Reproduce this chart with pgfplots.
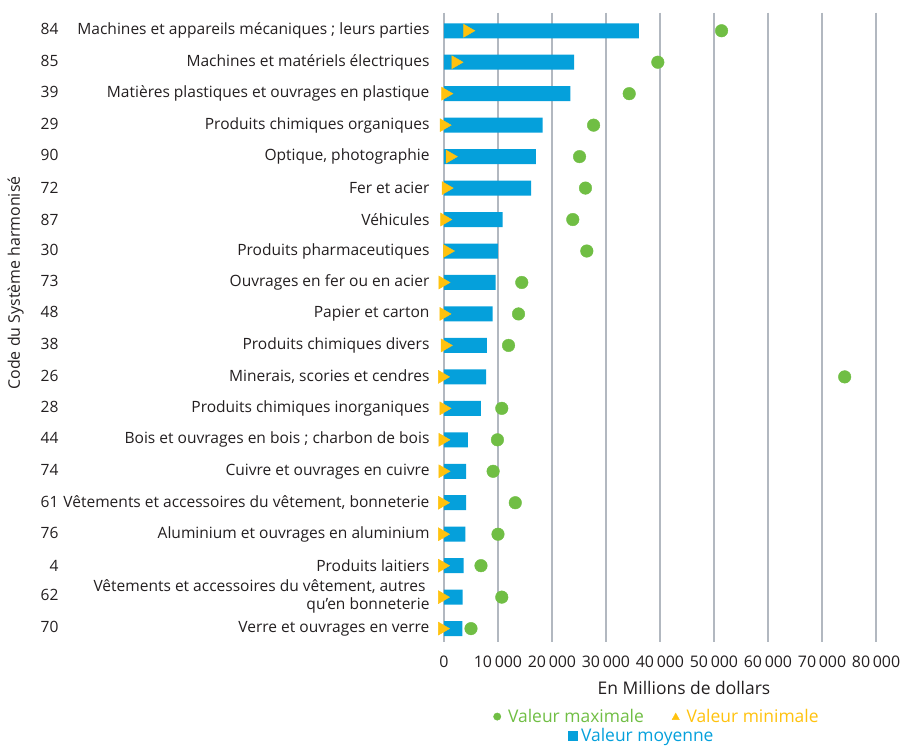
\documentclass[border=0pt]{standalone}
\usepackage{pgfplots}
\pgfplotsset{compat=1.18}
\usepackage{fontspec}
\setmainfont{Open Sans}
\definecolor{barblue}{RGB}{5,160,219}
\definecolor{dotgreen}{RGB}{112,190,68}
\definecolor{triyellow}{RGB}{255,194,14}
\definecolor{gridgray}{RGB}{178,184,192}
\definecolor{txt}{RGB}{35,31,32}
% code on the left, description right-aligned
\newcommand\lbl[2]{\makebox[399bp]{\makebox[28bp][r]{#1}\hfill#2}}
\newcommand\two[2]{\begin{tabular}[c]{@{}r@{}}#1\\#2\end{tabular}}

\begin{document}
\begin{tikzpicture}
\begin{axis}[
    scale only axis,
    width=432bp, height=629bp,
    xmin=0, xmax=80000,
    ymin=-0.58, ymax=19.41,
    y dir=reverse,
    clip=false,
    axis line style={draw=none},
    major tick length=0,
    xmajorgrids,
    major grid style={gridgray, line width=1.2bp},
    scaled x ticks=false,
    xtick={0,10000,...,80000},
    xticklabels={0,10\,000,20\,000,30\,000,40\,000,50\,000,60\,000,70\,000,80\,000},
    ytick={0,...,19},
    yticklabels={
        \lbl{84}{Machines et appareils mécaniques ; leurs parties},
        \lbl{85}{Machines et matériels électriques},
        \lbl{39}{Matières plastiques et ouvrages en plastique},
        \lbl{29}{Produits chimiques organiques},
        \lbl{90}{Optique, photographie},
        \lbl{72}{Fer et acier},
        \lbl{87}{Véhicules},
        \lbl{30}{Produits pharmaceutiques},
        \lbl{73}{Ouvrages en fer ou en acier},
        \lbl{48}{Papier et carton},
        \lbl{38}{Produits chimiques divers},
        \lbl{26}{Minerais, scories et cendres},
        \lbl{28}{Produits chimiques inorganiques},
        \lbl{44}{Bois et ouvrages en bois ; charbon de bois},
        \lbl{74}{Cuivre et ouvrages en cuivre},
        \lbl{61}{Vêtements et accessoires du vêtement, bonneterie},
        \lbl{76}{Aluminium et ouvrages en aluminium},
        \lbl{4}{Produits laitiers},
        \lbl{62}{\two{Vêtements et accessoires du vêtement, autres\hspace*{4bp}}{qu’en bonneterie}},
        \lbl{70}{Verre et ouvrages en verre}},
    yticklabel style={font=\fontsize{15.6}{17.5}\selectfont, text=txt, xshift=-11bp},
    xticklabel style={font=\fontsize{16}{18}\selectfont, text=txt, yshift=-11bp},
    xlabel={En Millions de dollars},
    ylabel={Code du Système harmonisé},
    label style={text=txt},
    xlabel style={font=\fontsize{17.5}{20}\selectfont, xshift=24bp, yshift=-6.5bp},
    ylabel style={font=\fontsize{16}{18}\selectfont, at={(ticklabel cs:0.57)}},
    legend style={draw=none, fill=none, legend columns=2,
        at={(0.493,-0.101)}, anchor=north,
        font=\fontsize{17.5}{20}\selectfont,
        /tikz/row sep=0.5bp,
        /tikz/every odd column/.append style={column sep=5bp},
        /tikz/every even column/.append style={column sep=26bp}},
    legend cell align=left,
]
% mean values
\addplot[xbar, bar width=15bp, fill=barblue, draw=none, forget plot] coordinates {
    (36070,0) (24100,1) (23400,2) (18250,3) (17000,4)
    (16150,5) (10850,6) (10000,7) (9550,8) (9000,9)
    (7950,10) (7800,11) (6850,12) (4400,13) (4100,14)
    (4100,15) (3950,16) (3650,17) (3450,18) (3400,19)};
% maximum values
\addplot[only marks, mark=*, mark size=6.3bp, color=dotgreen,
    mark options={draw=none},
    legend image code/.code={\fill[dotgreen] (0bp,0bp) circle (3.7bp);}]
    coordinates {
    (51400,0) (39600,1) (34300,2) (27700,3) (25100,4)
    (26200,5) (23850,6) (26450,7) (14400,8) (13800,9)
    (11950,10) (74200,11) (10700,12) (9900,13) (9100,14)
    (13200,15) (10000,16) (6850,17) (10700,18) (5000,19)};
\addlegendentry{\textcolor{dotgreen}{Valeur maximale}}
% minimum values
\addplot[only marks, mark=triangle*, mark size=7.5bp, color=triyellow,
    mark options={xshift=-1.9bp, rotate=-90, draw=none},
    legend image code/.code={\fill[triyellow] (-3.6bp,-3bp) -- (3.6bp,-3bp) -- (0bp,3.5bp) -- cycle;}]
    coordinates {
    (4690,0) (2500,1) (620,2) (310,3) (1450,4)
    (680,5) (430,6) (920,7) (90,8) (280,9)
    (520,10) (0,11) (280,12) (90,13) (90,14)
    (0,15) (0,16) (0,17) (0,18) (0,19)};
\addlegendentry{\textcolor{triyellow}{Valeur minimale}}
\addlegendimage{legend image code/.code={\fill[barblue, overlay] (70.5bp,-4.6bp) rectangle (79.5bp,4.6bp);}}
\addlegendentry{\rlap{\hspace*{73bp}\textcolor{barblue}{Valeur moyenne}}}
\end{axis}
% page frame as in the reference (903 x 746)
\pgfresetboundingbox
\path (current axis.south west) ++(-444bp,-104.5bp) rectangle ++(903bp,746bp);
\end{tikzpicture}
\end{document}
